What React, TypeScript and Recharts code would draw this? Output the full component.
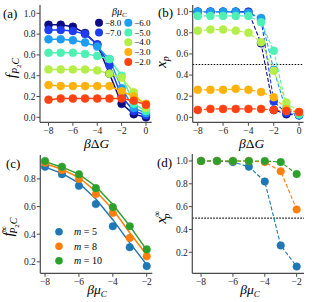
import React from "react";
import { LineChart, Line, XAxis, YAxis, ReferenceLine } from "recharts";

// x values
const dG = [-8, -7, -6, -5, -4, -3, -2, -1, 0];
const muC = [-8, -7, -6, -5, -4, -3, -2];

// series of panels (a)/(b), one per beta*mu_C
const muLabels = ["−8.0", "−7.0", "−6.0", "−5.0", "−4.0", "−3.0", "−2.0"];
const muColors = ["#0c0c85", "#1f3cf0", "#1e9cf2", "#4ff0b4", "#b3ef48", "#ffb20c", "#ff4214"];

const fP2C = [
  [0.89, 0.89, 0.87, 0.81, 0.70, 0.42, 0.13, 0.03, 0.0],
  [0.84, 0.84, 0.83, 0.80, 0.70, 0.50, 0.20, 0.06, 0.02],
  [0.75, 0.75, 0.74, 0.72, 0.68, 0.56, 0.28, 0.09, 0.04],
  [0.62, 0.62, 0.62, 0.61, 0.59, 0.56, 0.40, 0.13, 0.06],
  [0.46, 0.46, 0.46, 0.46, 0.45, 0.42, 0.38, 0.24, 0.09],
  [0.31, 0.30, 0.30, 0.30, 0.30, 0.30, 0.25, 0.20, 0.13],
  [0.17, 0.18, 0.18, 0.18, 0.18, 0.18, 0.18, 0.16, 0.12],
];

const xP = [
  [1.0, 1.0, 1.0, 1.0, 1.0, 0.70, 0.07, 0.03, 0.02],
  [1.0, 1.0, 1.0, 1.0, 0.99, 0.93, 0.15, 0.04, 0.02],
  [1.0, 1.0, 1.0, 1.0, 0.99, 0.94, 0.45, 0.06, 0.02],
  [0.96, 0.96, 0.96, 0.96, 0.96, 0.90, 0.63, 0.10, 0.03],
  [0.82, 0.83, 0.83, 0.82, 0.80, 0.71, 0.44, 0.14, 0.05],
  [0.26, 0.26, 0.26, 0.27, 0.26, 0.24, 0.19, 0.08, 0.05],
  [0.07, 0.08, 0.08, 0.08, 0.08, 0.08, 0.07, 0.06, 0.05],
];

// panels (c)/(d), one per m
const mLabels = ["5", "8", "10"];
const mColors = ["#1f77b4", "#ff7f0e", "#2ca02c"];

const fInfPts = [
  [0.888, 0.834, 0.75, 0.618, 0.457, 0.306, 0.169],
  [0.917, 0.865, 0.80, 0.69, 0.553, 0.373, 0.24],
  [0.93, 0.888, 0.834, 0.733, 0.596, 0.457, 0.29],
];
const fInfTheory = [
  [0.885, 0.84, 0.77, 0.655, 0.505, 0.337, 0.18],
  [0.91, 0.87, 0.81, 0.71, 0.58, 0.41, 0.25],
  [0.925, 0.885, 0.835, 0.745, 0.615, 0.46, 0.285],
];

const xPInf = [
  [1.0, 1.0, 0.99, 0.95, 0.82, 0.26, 0.075],
  [1.0, 1.0, 1.0, 1.0, 0.99, 0.91, 0.575],
  [1.0, 1.0, 1.0, 1.0, 1.0, 0.99, 0.885],
];

const FONT = "'Liberation Serif', 'DejaVu Serif', serif";
const FRAME = "#4a4a4a";

const rowsOf = (xs: number[], series: number[][], prefix = "s") =>
  xs.map((x, i) => {
    const row: Record<string, number> = { x };
    series.forEach((s, k) => (row[prefix + k] = s[i]));
    return row;
  });

const fmtX = (v: number) => (v < 0 ? "−" + Math.abs(v) : String(v));
const fmtY = (v: number) => v.toFixed(1);

const tickStyle = { fontSize: 9.5, fill: "#222", fontFamily: FONT };

const frameAxes = (xDom: number[], yDom: number[], xTicks: number[], yTicks: number[], yW: number, xH: number) => [
  <XAxis key="xb" dataKey="x" type="number" domain={xDom} ticks={xTicks} allowDataOverflow
    tickFormatter={fmtX} tick={tickStyle} height={xH} tickSize={3.5} tickMargin={1}
    axisLine={{ stroke: FRAME, strokeWidth: 1.2 }} tickLine={{ stroke: FRAME }} />,
  <XAxis key="xt" xAxisId="t" orientation="top" dataKey="x" type="number" domain={xDom} allowDataOverflow
    height={0} tick={false} tickLine={false} axisLine={{ stroke: FRAME, strokeWidth: 1.2 }} />,
  <YAxis key="yl" type="number" domain={yDom} ticks={yTicks} allowDataOverflow
    tickFormatter={fmtY} tick={tickStyle} width={yW} tickSize={3.5} tickMargin={1}
    axisLine={{ stroke: FRAME, strokeWidth: 1.2 }} tickLine={{ stroke: FRAME }} />,
  <YAxis key="yr" yAxisId="r" orientation="right" type="number" domain={yDom} allowDataOverflow
    width={0} tick={false} tickLine={false} axisLine={{ stroke: FRAME, strokeWidth: 1.2 }} />,
];

const PanelA = () => (
  <LineChart width={158} height={150} data={rowsOf(dG, fP2C)} margin={{ top: 5, right: 6.3, left: 0, bottom: 0 }}>
    {frameAxes([-8.7, 0.47], [-0.048, 1.08], [-8, -6, -4, -2, 0], [0, 0.2, 0.4, 0.6, 0.8, 1.0], 40, 27.7)}
    {fP2C.map((_, k) => (
      <Line key={k} dataKey={"s" + k} stroke={muColors[k]} strokeWidth={1.5} type="linear"
        dot={{ r: 4, fill: muColors[k], stroke: muColors[k], strokeWidth: 0.5 }} isAnimationActive={false} />
    ))}
  </LineChart>
);

const PanelB = () => (
  <LineChart width={160} height={150} data={rowsOf(dG, xP)} margin={{ top: 5, right: 11.5, left: 0, bottom: 0 }}>
    {frameAxes([-8.4, 0.35], [-0.047, 1.063], [-8, -6, -4, -2, 0], [0, 0.2, 0.4, 0.6, 0.8, 1.0], 37.7, 27.7)}
    <ReferenceLine y={0.5} stroke="#000" strokeDasharray="1.5 1.5" strokeWidth={1.2} />
    {xP.map((_, k) => (
      <Line key={k} dataKey={"s" + k} stroke={muColors[k]} strokeWidth={1.1} strokeDasharray="4 2" type="linear"
        dot={{ r: 4, fill: muColors[k], stroke: muColors[k], strokeWidth: 0.5, strokeDasharray: "" }} isAnimationActive={false} />
    ))}
  </LineChart>
);

const PanelC = () => {
  const theory = rowsOf(muC, fInfTheory, "t");
  const rows = rowsOf(muC, fInfPts, "p").map((r, i) => ({ ...r, ...theory[i] }));
  return (
    <LineChart width={158} height={152} data={rows} margin={{ top: 5, right: 5.7, left: 0, bottom: 0 }}>
      {frameAxes([-8.28, -1.67], [0.117, 0.973], [-8, -6, -4, -2], [0.2, 0.4, 0.6, 0.8], 40.3, 28.7)}
      {fInfTheory.map((_, k) => (
        <Line key={"t" + k} dataKey={"t" + k} stroke={mColors[k]} strokeWidth={1.5} dot={false} isAnimationActive={false} />
      ))}
      {fInfPts.map((_, k) => (
        <Line key={"p" + k} dataKey={"p" + k} stroke="none" dot={{ r: 3.8, fill: mColors[k], stroke: mColors[k], strokeWidth: 0.5 }}
          isAnimationActive={false} />
      ))}
    </LineChart>
  );
};

const PanelD = () => (
  <LineChart width={160} height={152} data={rowsOf(muC, xPInf)} margin={{ top: 4, right: 11, left: 0, bottom: 0 }}>
    {frameAxes([-8.55, -1.54], [0.016, 1.061], [-8, -6, -4, -2], [0.2, 0.4, 0.6, 0.8, 1.0], 37.3, 28.7)}
    <ReferenceLine y={0.5} stroke="#000" strokeDasharray="1.5 1.5" strokeWidth={1.2} />
    {xPInf.map((_, k) => (
      <Line key={k} dataKey={"s" + k} stroke={mColors[k]} strokeWidth={1.1} strokeDasharray="4 2"
        dot={{ r: 3.8, fill: mColors[k], stroke: mColors[k], strokeWidth: 0.5, strokeDasharray: "" }} isAnimationActive={false} />
    ))}
  </LineChart>
);

const Overlay = () => (
  <svg width={315} height={302} style={{ position: "absolute", left: 0, top: 0, pointerEvents: "none" }} fontFamily={FONT}>
    {/* panel letters */}
    <text x={3} y={18} fontSize={13}>(a)</text>
    <text x={158} y={17} fontSize={13}>(b)</text>
    <text x={6} y={168} fontSize={13}>(c)</text>
    <text x={157} y={167} fontSize={13}>(d)</text>

    {/* x labels */}
    <text x={96.7} y={147.5} fontSize={13.5} textAnchor="middle">
      <tspan fontStyle="italic">β</tspan>Δ<tspan fontStyle="italic">G</tspan>
    </text>
    <text x={251.7} y={147.5} fontSize={13.5} textAnchor="middle">
      <tspan fontStyle="italic">β</tspan>Δ<tspan fontStyle="italic">G</tspan>
    </text>
    <text x={97} y={294} fontSize={13.5} textAnchor="middle" fontStyle="italic">
      βμ<tspan fontSize={9} dy={3}>C</tspan>
    </text>
    <text x={250} y={294} fontSize={13.5} textAnchor="middle" fontStyle="italic">
      βμ<tspan fontSize={9} dy={3}>C</tspan>
    </text>

    {/* y labels */}
    <text transform="translate(16,68) rotate(-90)" fontSize={15} textAnchor="middle" fontStyle="italic">
      f<tspan fontSize={10} dy={3}>P</tspan><tspan fontSize={7} dy={2} fontStyle="normal">2</tspan><tspan fontSize={10} dy={-2}>C</tspan>
    </text>
    <text transform="translate(166,62) rotate(-90)" fontSize={15} textAnchor="middle" fontStyle="italic">
      x<tspan fontSize={10} dy={3}>p</tspan>
    </text>
    <text transform="translate(13,227) rotate(-90)" fontSize={15} textAnchor="middle" fontStyle="italic">
      f<tspan fontSize={9} dy={-6} fontStyle="normal">∞</tspan><tspan fontSize={10} dx={-8} dy={10}>P</tspan><tspan fontSize={7} dy={2} fontStyle="normal">2</tspan><tspan fontSize={10} dy={-2}>C</tspan>
    </text>
    <text transform="translate(166,217) rotate(-90)" fontSize={15} textAnchor="middle" fontStyle="italic">
      x<tspan fontSize={9} dy={-6} fontStyle="normal">∞</tspan><tspan fontSize={10} dx={-8} dy={10}>p</tspan>
    </text>

    {/* legend (a) */}
    <text x={112} y={15} fontSize={10} fontStyle="italic">
      βμ<tspan fontSize={7} dy={2}>C</tspan>
    </text>
    {muLabels.map((lab, k) => {
      const col = k < 2 ? 0 : 1;
      const row = k < 2 ? k : k - 2;
      const cx = col === 0 ? 99 : 128.3;
      const cy = 22.7 + row * 9.8;
      return (
        <g key={k}>
          <circle cx={cx} cy={cy} r={4} fill={muColors[k]} />
          <text x={cx + 6} y={cy + 3} fontSize={9}>{lab}</text>
        </g>
      );
    })}

    {/* legend (c) */}
    {mLabels.map((lab, k) => (
      <g key={k}>
        <circle cx={59} cy={231.7 + k * 14.5} r={3.8} fill={mColors[k]} />
        <text x={74} y={235.2 + k * 14.5} fontSize={10}>
          <tspan fontStyle="italic">m</tspan> = {lab}
        </text>
      </g>
    ))}
  </svg>
);

export default function App() {
  return (
    <div style={{ position: "absolute", left: 0, top: 0, width: 315, height: 302, background: "#fff", fontFamily: FONT }}>
      <div style={{ position: "absolute", left: 0, top: 0 }}><PanelA /></div>
      <div style={{ position: "absolute", left: 155, top: 0 }}><PanelB /></div>
      <div style={{ position: "absolute", left: 0, top: 150 }}><PanelC /></div>
      <div style={{ position: "absolute", left: 155, top: 150 }}><PanelD /></div>
      <Overlay />
    </div>
  );
}
